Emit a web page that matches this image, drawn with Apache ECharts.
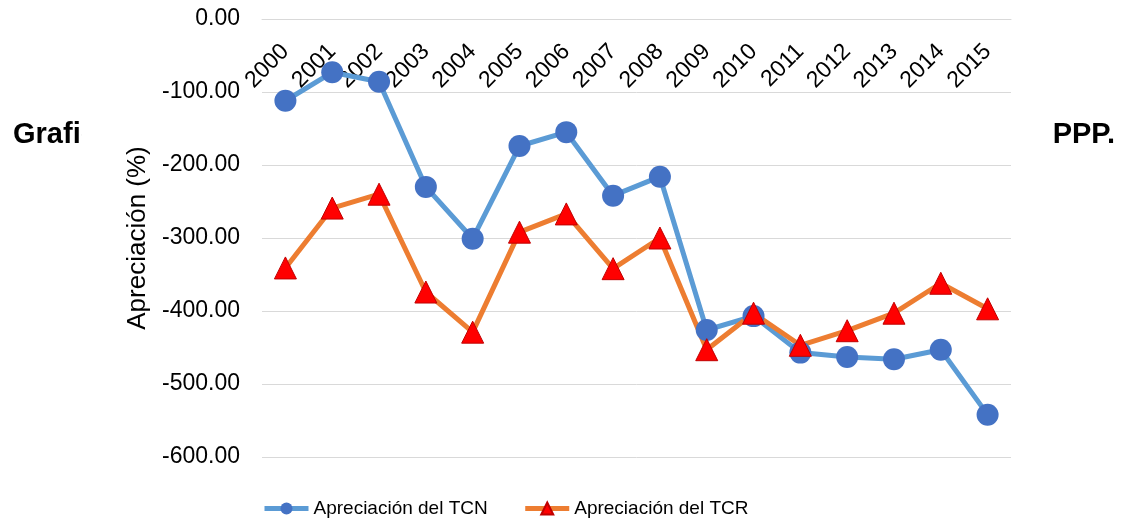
<!DOCTYPE html>
<html>
<head>
<meta charset="utf-8">
<script src="https://cdn.jsdelivr.net/npm/echarts@6/dist/echarts.min.js"></script>
<style>
  html, body { margin: 0; padding: 0; background: #fff; }
  #chart { width: 1124px; height: 524px; }
</style>
</head>
<body>
<div id="chart"></div>
<script>
const years = ["2000", "2001", "2002", "2003", "2004", "2005", "2006", "2007",
  "2008", "2009", "2010", "2011", "2012", "2013", "2014", "2015"];
const tcn = [-112, -73, -86, -230, -301, -174, -155, -242, -216, -426, -407, -457, -463, -466, -453, -542];
const tcr = [-341, -259, -240, -374, -429, -292, -267, -342, -300, -453, -403, -447, -427, -403, -362, -397];
const yTicks = { min: -600, max: 0, step: 100 };

const font = "'Liberation Sans', Arial, sans-serif";
const chart = echarts.init(document.getElementById("chart"));

chart.setOption({
  backgroundColor: "#fff",
  animation: false,
  textStyle: { fontFamily: font },
  graphic: [
    // figure caption sitting behind the chart area
    {
      type: "text", left: 13, top: 120, z: -10,
      style: { text: "Grafico 1. Apreciación del tipo de cambio", font: "bold 29px " + font, fill: "#000" },
    },
    {
      type: "text", right: 9, top: 120, z: -10,
      style: { text: "nominal y real según la PPP.", font: "bold 29px " + font, fill: "#000" },
    },
    {
      type: "rect", left: 82, top: 0, z: -5,
      shape: { width: 964, height: 524 },
      style: { fill: "#fff" },
    },
  ],
  grid: { left: 262, right: 113, top: 19, bottom: 67 },
  legend: {
    bottom: 1,
    left: 257,
    itemWidth: 44,
    itemHeight: 15,
    itemGap: 35,
    lineStyle: { width: 5 },
    textStyle: { fontSize: 19, color: "#000", fontFamily: font },
    data: ["Apreciación del TCN", "Apreciación del TCR"],
  },
  xAxis: {
    type: "category",
    data: years,
    position: "top",
    boundaryGap: true,
    axisLine: { show: true, lineStyle: { color: "#d9d9d9", width: 1 } },
    axisTick: { show: false },
    axisLabel: {
      inside: true,
      rotate: 45,
      margin: 29,
      fontSize: 23,
      color: "#000",
      fontFamily: font,
      interval: 0,
    },
  },
  yAxis: {
    type: "value",
    min: yTicks.min,
    max: yTicks.max,
    interval: yTicks.step,
    name: "Apreciación (%)",
    nameLocation: "middle",
    nameGap: 104,
    nameTextStyle: { fontSize: 26, color: "#000", fontFamily: font },
    axisLine: { show: false },
    axisTick: { show: false },
    axisLabel: {
      fontSize: 23,
      color: "#000",
      margin: 22,
      fontFamily: font,
      formatter: (v) => v.toFixed(2),
    },
    splitLine: { lineStyle: { color: "#d9d9d9", width: 1 } },
  },
  series: [
    {
      name: "Apreciación del TCN",
      type: "line",
      data: tcn,
      symbol: "circle",
      symbolSize: 22,
      lineStyle: { color: "#5b9bd5", width: 5 },
      itemStyle: { color: "#4472c4" },
    },
    {
      name: "Apreciación del TCR",
      type: "line",
      data: tcr,
      symbol: "triangle",
      symbolSize: 22,
      lineStyle: { color: "#ed7d31", width: 5 },
      itemStyle: { color: "#ff0000", borderColor: "#c00000", borderWidth: 1 },
    },
  ],
});
</script>
</body>
</html>
